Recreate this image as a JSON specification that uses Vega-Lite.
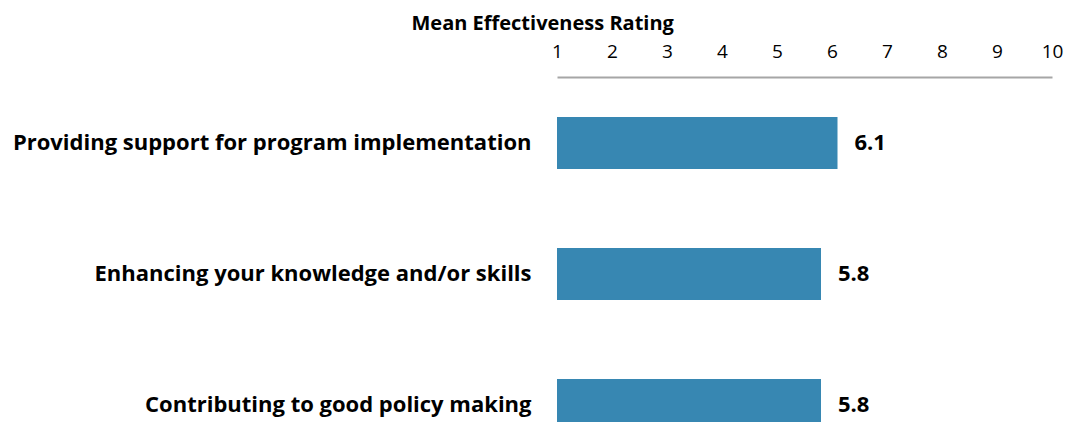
{
  "$schema": "https://vega.github.io/schema/vega-lite/v6.json",
  "autosize": "none",
  "padding": {"left": 557, "top": 77, "right": 14, "bottom": 0},
  "width": 495,
  "height": 394,
  "background": "white",
  "config": {"view": {"stroke": null}, "font": "Open Sans"},
  "data": {"values": [
    {"item": "Providing support for program implementation", "rating": 6.1},
    {"item": "Enhancing your knowledge and/or skills", "rating": 5.8},
    {"item": "Contributing to good policy making", "rating": 5.8}
  ]},
  "encoding": {
    "y": {"field": "item", "type": "nominal", "sort": null,
      "scale": {"paddingInner": 0.603, "paddingOuter": 0.305},
      "axis": {"title": null, "domain": false, "ticks": false, "labelPadding": 26,
        "labelFontSize": 22, "labelFontWeight": "bold", "labelColor": "#000000", "labelLimit": 700}},
    "x": {"field": "rating", "type": "quantitative",
      "scale": {"domain": [1, 10], "nice": false, "zero": false},
      "axis": {"orient": "top", "title": "Mean Effectiveness Rating", "values": [1,2,3,4,5,6,7,8,9,10],
        "grid": false, "ticks": false, "domainColor": "#a6a6a6", "domainWidth": 2,
        "labelFontSize": 19, "labelColor": "#000000", "labelPadding": 16, "labelFlush": false,
        "titleFontSize": 20, "titleFontWeight": "bold", "titleColor": "#000000",
        "titleAnchor": "start", "titleAlign": "left", "titleX": -146, "titleY": -48, "titleBaseline": "alphabetic"}}
  },
  "layer": [
    {"mark": {"type": "bar", "color": "#3787b2"},
     "encoding": {"x2": {"datum": 1}}},
    {"mark": {"type": "text", "align": "left", "dx": 17, "fontSize": 22, "fontWeight": "bold", "color": "#000000"},
     "encoding": {"text": {"field": "rating", "type": "quantitative", "format": ".1f"}}}
  ]
}
